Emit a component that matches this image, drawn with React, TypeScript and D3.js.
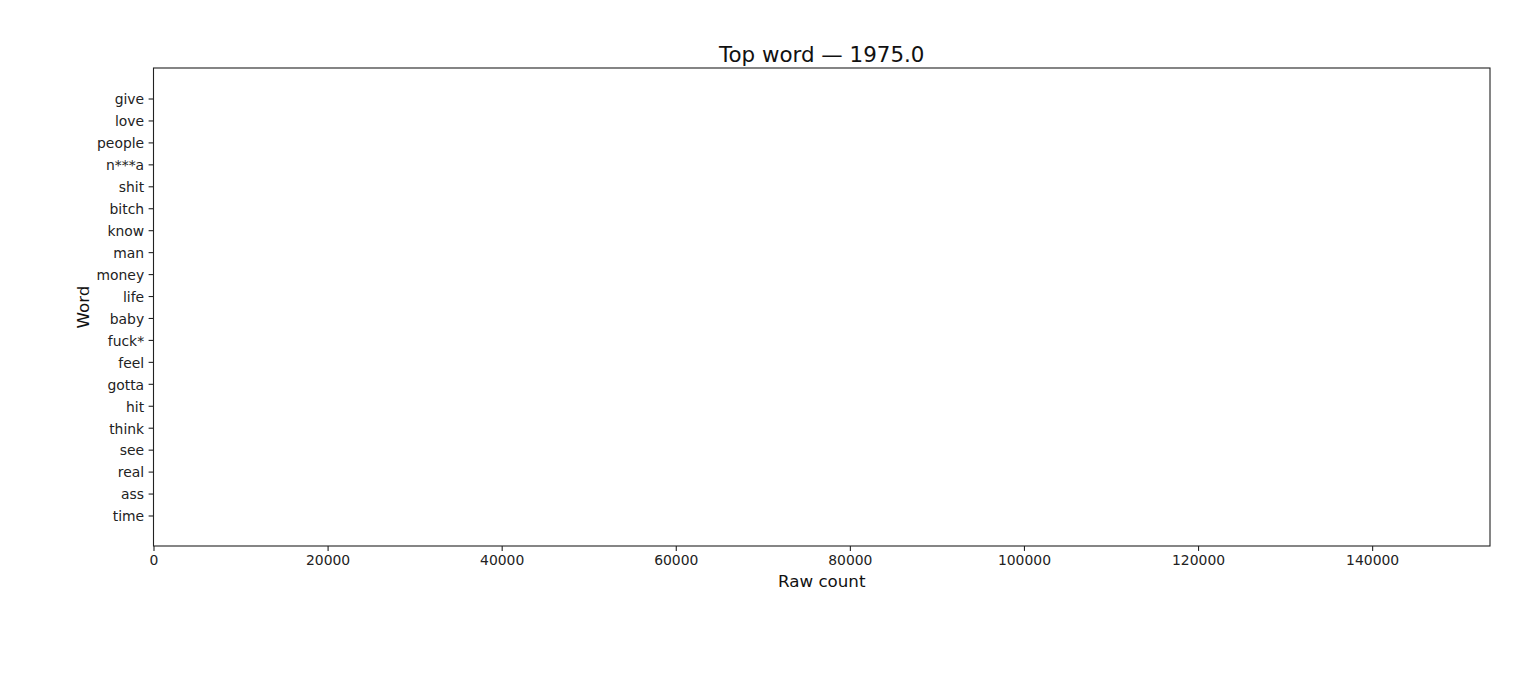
import React, { useEffect, useRef } from 'react';
import { select, scaleLinear, scaleBand, axisBottom, axisLeft } from 'd3';

const words = [
  'give', 'love', 'people', 'n***a', 'shit', 'bitch', 'know', 'man', 'money', 'life',
  'baby', 'fuck*', 'feel', 'gotta', 'hit', 'think', 'see', 'real', 'ass', 'time',
];
// no counts for 1975.0 - every bar is empty
const counts = [0, 0, 0, 0, 0, 0, 0, 0, 0, 0, 0, 0, 0, 0, 0, 0, 0, 0, 0, 0];
const xTicks = [0, 20000, 40000, 60000, 80000, 100000, 120000, 140000];
const xMax = 153540;
const title = 'Top word \u2014 1975.0';

const W = 1536;
const H = 683;
const FONT = "'DejaVu Sans', sans-serif";

export default function App() {
  const svgRef = useRef<SVGSVGElement>(null);

  useEffect(() => {
    if (!svgRef.current) return;
    const svg = select(svgRef.current);
    svg.selectAll('*').remove();

    const margin = { top: 68, right: 46, bottom: 137, left: 153.5 };
    const innerW = W - margin.left - margin.right;
    const innerH = H - margin.top - margin.bottom;

    svg.append('rect').attr('width', W).attr('height', H).attr('fill', '#fff');

    const g = svg.append('g').attr('transform', `translate(${margin.left},${margin.top})`);

    const x = scaleLinear().domain([0, xMax]).range([0, innerW]);
    // matplotlib-style band: 0.8 bar height, 5% padding on the data range
    const n = words.length;
    const lo = -0.4 - (n - 1 + 0.8) * 0.05;
    const hi = n - 1 + 0.4 + (n - 1 + 0.8) * 0.05;
    const yPos = scaleLinear().domain([lo, hi]).range([0, innerH]);
    const y = scaleBand<string>().domain(words).range([yPos(-0.5), yPos(n - 0.5)]).paddingInner(0.2).paddingOuter(0.1);

    g.selectAll('.bar')
      .data(words)
      .enter()
      .append('rect')
      .attr('class', 'bar')
      .attr('x', 0)
      .attr('y', (d) => y(d)!)
      .attr('width', (d, i) => x(counts[i]))
      .attr('height', y.bandwidth())
      .attr('fill', '#1f77b4');

    const xAxis = g.append('g')
      .attr('transform', `translate(0,${innerH})`)
      .call(axisBottom(x).tickValues(xTicks).tickFormat((d) => String(d)).tickSize(4.9).tickPadding(4.5));
    const yAxis = g.append('g')
      .call(axisLeft(yPos).tickValues(words.map((_, i) => i)).tickFormat((d, i) => words[i]).tickSize(4.9).tickPadding(4.5));

    [xAxis, yAxis].forEach((a) => {
      a.select('.domain').remove();
      a.selectAll('line').attr('stroke', '#222').attr('stroke-width', 1.1);
      a.selectAll('text').attr('font-family', FONT).attr('font-size', '13.9px').attr('fill', '#222');
    });
    yAxis.selectAll('text').attr('dy', '0.38em');

    g.append('rect')
      .attr('width', innerW).attr('height', innerH)
      .attr('fill', 'none').attr('stroke', '#222').attr('stroke-width', 1.1);

    svg.append('text')
      .attr('x', margin.left + innerW / 2).attr('y', 61.5)
      .attr('text-anchor', 'middle')
      .attr('font-family', FONT).attr('font-size', '21.4px').attr('fill', '#111')
      .text(title);

    svg.append('text')
      .attr('x', margin.left + innerW / 2).attr('y', 587)
      .attr('text-anchor', 'middle')
      .attr('font-family', FONT).attr('font-size', '16.7px').attr('fill', '#111')
      .text('Raw count');

    svg.append('text')
      .attr('transform', `translate(88.5,${margin.top + innerH / 2}) rotate(-90)`)
      .attr('text-anchor', 'middle')
      .attr('font-family', FONT).attr('font-size', '16.7px').attr('fill', '#111')
      .text('Word');
  }, []);

  return (
    <div style={{ position: 'absolute', left: 0, top: 0 }}>
      <svg ref={svgRef} width={W} height={H} viewBox={`0 0 ${W} ${H}`} style={{ display: 'block' }} />
    </div>
  );
}
